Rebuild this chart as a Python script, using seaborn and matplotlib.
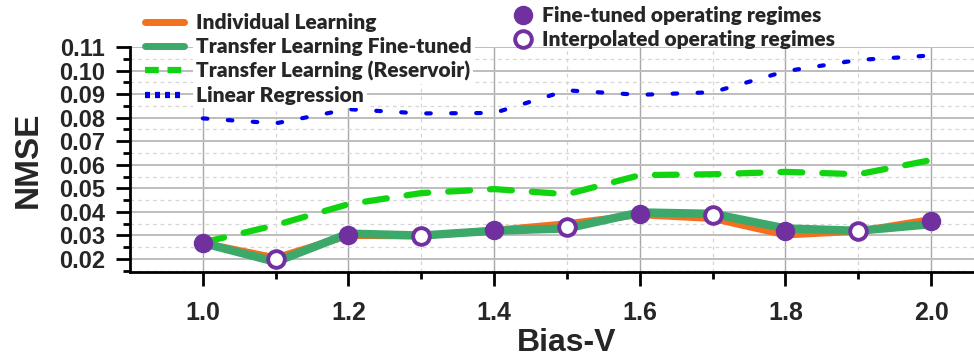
import numpy as np
import pandas as pd
import matplotlib
matplotlib.use('Agg')
import matplotlib.pyplot as plt
from matplotlib.lines import Line2D
import seaborn as sns

# Datos
bias = [1.0, 1.1, 1.2, 1.3, 1.4, 1.5, 1.6, 1.7, 1.8, 1.9, 2.0]
individual = [0.0268, 0.0205, 0.0300, 0.0298, 0.0322, 0.0350, 0.0388, 0.0372, 0.0302, 0.0318, 0.0368]
fine_tuned = [0.0268, 0.0188, 0.0308, 0.0300, 0.0320, 0.0330, 0.0398, 0.0392, 0.0330, 0.0320, 0.0348]
reservoir = [0.0270, 0.0344, 0.0433, 0.0480, 0.0497, 0.0475, 0.0556, 0.0560, 0.0570, 0.0560, 0.0620]
linear_reg = [0.0797, 0.0776, 0.0836, 0.0818, 0.0820, 0.0916, 0.0897, 0.0908, 0.0997, 0.1045, 0.1064]

# regimenes: entrenados (relleno) e interpolados (hueco)
fine_x = [1.0, 1.2, 1.4, 1.6, 1.8, 2.0]
fine_y = [0.0268, 0.0300, 0.0322, 0.0390, 0.0318, 0.0360]
interp_x = [1.1, 1.3, 1.5, 1.7, 1.9]
interp_y = [0.0200, 0.0298, 0.0336, 0.0386, 0.0320]

yticks = [0.02, 0.03, 0.04, 0.05, 0.06, 0.07, 0.08, 0.09, 0.10, 0.11]
xticks = [1.0, 1.2, 1.4, 1.6, 1.8, 2.0]

purple = '#7030A0'
orange = '#F4701F'
green = '#3CA86A'
lime = '#11D411'
blue = '#0000EE'

sns.set_style('white')
plt.rcParams['font.family'] = ['Liberation Sans', 'DejaVu Sans']

fig = plt.figure(figsize=(9.74, 3.6), dpi=100)
ax = fig.add_axes([130 / 974, 1 - 272 / 360, (1004 - 130) / 974, 225 / 360])

df = pd.DataFrame({'Bias': bias, 'ind': individual, 'ft': fine_tuned,
                   'res': reservoir, 'lr': linear_reg})

sns.lineplot(data=df, x='Bias', y='lr', ax=ax, color=blue, lw=3)
ax.lines[-1].set_linestyle((0, (1.1, 4.9)))
ax.lines[-1].set_dash_capstyle('round')
sns.lineplot(data=df, x='Bias', y='res', ax=ax, color=lime, lw=4.5)
ax.lines[-1].set_linestyle((0, (3.5, 3.2)))
ax.lines[-1].set_dash_capstyle('round')
sns.lineplot(data=df, x='Bias', y='ind', ax=ax, color=orange, lw=5,
             solid_joinstyle='round', solid_capstyle='round')
sns.lineplot(data=df, x='Bias', y='ft', ax=ax, color=green, lw=6,
             solid_joinstyle='round', solid_capstyle='round')

ax.plot(fine_x, fine_y, 'o', color=purple, ms=13, zorder=5)
ax.plot(interp_x, interp_y, 'o', mfc='white', mec=purple, mew=2.8, ms=12, zorder=5)

ax.set_xlim(0.9, 2.1)
ax.set_ylim(0.0145, 0.11)
ax.set_xticks(xticks)
ax.set_xticks([1.1, 1.3, 1.5, 1.7, 1.9], minor=True)
ax.set_xticklabels([f'{v:.1f}' for v in xticks])
ax.set_yticks(yticks)
ax.set_yticks(np.arange(0.015, 0.11, 0.01), minor=True)
ax.set_yticklabels([f'{v:.2f}' for v in yticks])

for lab in ax.get_xticklabels():
    lab.set_fontsize(18)
    lab.set_fontweight('bold')
for lab in ax.get_yticklabels():
    lab.set_fontsize(17)
    lab.set_fontweight('bold')

ax.tick_params(axis='both', which='major', direction='out', length=10, width=2, color='black', left=True, bottom=True)
ax.tick_params(axis='both', which='minor', direction='out', length=5, width=2, color='black', left=True, bottom=True)
ax.tick_params(axis='x', pad=11)
ax.tick_params(axis='y', pad=8)

ax.grid(True, which='major', axis='y', color='#bdbdbd', lw=1.4, ls='-')
ax.grid(True, which='minor', axis='y', color='#d6d6d6', lw=0.9, ls=(0, (3, 3)))
ax.grid(True, which='major', axis='x', color='#a8a8a8', lw=1.0, ls='-')
ax.grid(True, which='minor', axis='x', color='#d6d6d6', lw=0.9, ls=(0, (3, 3)))
ax.set_axisbelow(True)

for s in ['top', 'right']:
    ax.spines[s].set_visible(False)
for s in ['left', 'bottom']:
    ax.spines[s].set_color('black')
    ax.spines[s].set_linewidth(2)

ax.set_xlabel('Bias-V', fontsize=23, fontweight='bold', labelpad=2)
ax.set_ylabel('NMSE', fontsize=24, fontweight='bold', labelpad=11)

# leyendas
leg_font = {'family': 'Lato', 'weight': 'heavy', 'size': 15}
h1 = [Line2D([], [], color=orange, lw=5),
      Line2D([], [], color=green, lw=5),
      Line2D([], [], color=lime, lw=4.5, ls=(0, (2.2, 1.4))),
      Line2D([], [], color=blue, lw=4.5, ls=(0, (0.8, 0.8)))]
l1 = ['Individual Learning', 'Transfer Learning Fine-tuned',
      'Transfer Learning (Reservoir)', 'Linear Regression']
leg1 = fig.legend(h1, l1, loc='upper left', bbox_to_anchor=(141 / 974, 1 - 9 / 360),
                  bbox_transform=fig.transFigure, frameon=False,
                  prop=leg_font, handlelength=1.85, handletextpad=0.6,
                  labelspacing=0.24, borderpad=0.2, borderaxespad=0)
for t in leg1.get_texts():
    t.set_bbox(dict(facecolor='white', edgecolor='none', pad=2))

h2 = [Line2D([], [], ls='none', marker='o', color=purple, ms=13),
      Line2D([], [], ls='none', marker='o', mfc='white', mec=purple, mew=2.8, ms=12)]
l2 = ['Fine-tuned operating regimes', 'Interpolated operating regimes']
leg2 = fig.legend(h2, l2, loc='upper left', bbox_to_anchor=(508 / 974, 1 - 2 / 360),
                  bbox_transform=fig.transFigure, frameon=False,
                  prop=leg_font, handlelength=1.0, handletextpad=0.42,
                  labelspacing=0.24, borderpad=0.2, borderaxespad=0)

fig.savefig('out.png', dpi=100)
